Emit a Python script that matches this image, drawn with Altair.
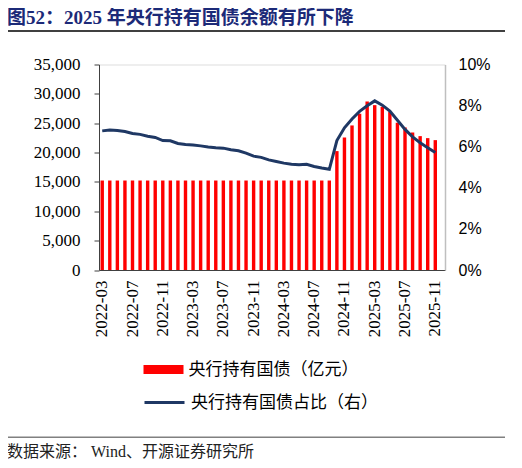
import altair as alt
import pandas as pd

months = [
    "2022-03", "2022-04", "2022-05", "2022-06", "2022-07", "2022-08", "2022-09", "2022-10", "2022-11", "2022-12",
    "2023-01", "2023-02", "2023-03", "2023-04", "2023-05", "2023-06", "2023-07", "2023-08", "2023-09", "2023-10",
    "2023-11", "2023-12", "2024-01", "2024-02", "2024-03", "2024-04", "2024-05", "2024-06", "2024-07", "2024-08",
    "2024-09", "2024-10", "2024-11", "2024-12", "2025-01", "2025-02", "2025-03", "2025-04", "2025-05", "2025-06",
    "2025-07", "2025-08", "2025-09", "2025-10", "2025-11",
]

# 央行持有国债（亿元）
holdings = [
    15240, 15240, 15240, 15240, 15240, 15240, 15240, 15240, 15240, 15240,
    15240, 15240, 15240, 15240, 15240, 15240, 15240, 15240, 15240, 15240,
    15240, 15240, 15240, 15240, 15240, 15240, 15240, 15240, 15240, 15240,
    15240, 20250, 22580, 24620, 26600, 28700, 28080, 27800, 26900, 25070,
    24280, 23430, 22800, 22460, 22120,
]

# 央行持有国债占比（右，%）
share = [
    6.77, 6.81, 6.79, 6.74, 6.64, 6.60, 6.51, 6.45, 6.30, 6.29,
    6.16, 6.11, 6.08, 6.04, 5.99, 5.95, 5.93, 5.85, 5.80, 5.69,
    5.54, 5.48, 5.36, 5.28, 5.20, 5.15, 5.12, 5.14, 5.04, 4.96,
    4.90, 6.30, 6.92, 7.35, 7.72, 7.99, 8.23, 8.02, 7.73, 7.29,
    6.84, 6.48, 6.19, 5.95, 5.72,
]

bar_label = "央行持有国债（亿元）"
line_label = "央行持有国债占比（右）"
title_text = "图52：2025 年央行持有国债余额有所下降"
source_text = "数据来源：  Wind、开源证券研究所"

left_ticks = [0, 5000, 10000, 15000, 20000, 25000, 30000, 35000]
right_ticks = [0, 2, 4, 6, 8, 10]
x_labels = months[::4]

df = pd.DataFrame({"month": months, "holdings": holdings, "share": share,
                   "s1": bar_label, "s2": line_label})
one = pd.DataFrame({"k": [0]})

SERIF = "Liberation Serif, Noto Sans CJK SC"
CJK = "Liberation Serif, Noto Sans CJK SC"

x_enc = alt.X(
    "month:N", sort=months, title=None,
    scale=alt.Scale(paddingInner=0.55, paddingOuter=0.63, align=0.16),
    axis=alt.Axis(values=x_labels, labelAngle=270, labelFont="Liberation Serif",
                  labelFontSize=17, labelColor="#000000", ticks=False,
                  domainColor="#404040", domainWidth=1, labelPadding=10, grid=False),
)

bars = alt.Chart(df).mark_bar().encode(
    x=x_enc,
    y=alt.Y("holdings:Q", title=None,
            scale=alt.Scale(domain=[0, 35000], nice=False, zero=True),
            axis=alt.Axis(orient="left", values=left_ticks, format=",.0f",
                          labelFont="Liberation Serif", labelFontSize=17, labelColor="#000000",
                          domainColor="#404040", tickColor="#404040", tickSize=5,
                          labelPadding=14, grid=False)),
    color=alt.Color("s1:N", title=None,
                    scale=alt.Scale(domain=[bar_label], range=["#FF0000"]),
                    legend=alt.Legend(orient="none", legendX=44.5, legendY=285, padding=0,
                                      symbolType="M-1,-0.22H1V0.22H-1Z", symbolSize=1600,
                                      symbolStrokeWidth=0, labelFont=CJK, labelFontSize=17,
                                      labelColor="#000000", labelOffset=5, labelLimit=400)),
)

line = alt.Chart(df).mark_line(strokeWidth=3).encode(
    x=x_enc,
    y=alt.Y("share:Q", title=None,
            scale=alt.Scale(domain=[0, 10], nice=False, zero=True),
            axis=alt.Axis(orient="right", values=right_ticks, labelExpr="datum.value + '%'",
                          labelFont="Liberation Sans", labelFontSize=16, labelColor="#000000",
                          domainColor="#BFBFBF", domainWidth=1.5, ticks=False,
                          labelPadding=13, grid=False)),
    stroke=alt.Stroke("s2:N", title=None,
                      scale=alt.Scale(domain=[line_label], range=["#1F3864"]),
                      legend=alt.Legend(orient="none", legendX=44, legendY=316.5, padding=0,
                                        symbolType="M-1,0H1", symbolSize=1600,
                                        symbolStrokeWidth=3, labelFont=CJK, labelFontSize=17,
                                        labelColor="#000000", labelOffset=5, labelLimit=400)),
)

title_rule = alt.Chart(one).mark_rule(color="#000000", strokeWidth=1.5).encode(
    x=alt.value(-94), x2=alt.value(418), y=alt.value(-33.5))
source_rule = alt.Chart(one).mark_rule(color="#808080", strokeWidth=1.5).encode(
    x=alt.value(-94), x2=alt.value(418), y=alt.value(372.8))
source = alt.Chart(one).mark_text(align="left", baseline="middle", font=CJK,
                                  fontSize=16, color="#222222").encode(
    x=alt.value(-92), y=alt.value(387.5), text=alt.value(source_text))
title = alt.Chart(one).mark_text(align="left", baseline="middle", font=SERIF,
                                 fontSize=19, fontWeight="bold", color="#1C2A78").encode(
    x=alt.value(-92), y=alt.value(-47), text=alt.value(title_text))

chart = alt.layer(bars, line, title_rule, source_rule, source, title).resolve_scale(
    y="independent"
).properties(
    width=346, height=205.5,
    padding={"left": 91, "top": 56.5, "right": 60, "bottom": 190},
    autosize=alt.AutoSizeParams(type="none"),
).configure_view(stroke=None).configure(background="#FFFFFF")

chart.save("out.html", embed_options={"renderer": "svg", "actions": False})
